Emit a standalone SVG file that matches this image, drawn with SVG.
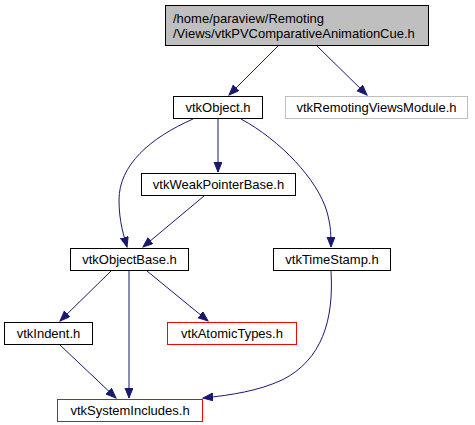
<svg xmlns="http://www.w3.org/2000/svg" width="475" height="425" viewBox="0 0 475 425">
<style>
text{font-family:"Liberation Sans",Arial,sans-serif;font-size:13px;fill:#000}
.c{text-anchor:middle}
.n{fill:#fff;stroke:#000;stroke-width:1}
.r{fill:#fff;stroke:#ff0000;stroke-width:1}
.g{fill:#fff;stroke:#bfbfbf;stroke-width:1}
.e{fill:none;stroke:#191970;stroke-width:1;marker-end:url(#ah)}
</style>
<defs>
<marker id="ah" markerUnits="userSpaceOnUse" markerWidth="12" markerHeight="10" refX="10" refY="4" orient="auto">
<path d="M0,0 L10,4 L0,8 z" fill="#191970" stroke="#191970" stroke-width="1"/>
</marker>
</defs>
<rect width="475" height="425" fill="#fff"/>
<g id="edges">
<path class="e" d="M278,46 L229,95"/>
<path class="e" d="M317,46 L367,95"/>
<path class="e" d="M193,119 C150,138 119,165 119,200 C119,222 124,236 127,247"/>
<path class="e" d="M218,119 L218,172"/>
<path class="e" d="M241,119 C280,140 318,180 327,212 C331,226 331,236 331,247"/>
<path class="e" d="M204,196 L143,247"/>
<path class="e" d="M111,271 L60,321"/>
<path class="e" d="M129,271 L129,398"/>
<path class="e" d="M147,271 L208,321"/>
<path class="e" d="M60,345 L116,398"/>
<path class="e" d="M331,271 C334,320 322,360 282,380 C258,391 232,395 203,398"/>
</g>
<g id="node_main">
<rect x="165.5" y="5.5" width="263" height="40" fill="#bfbfbf" stroke="#000"/>
<text x="173" y="23">/home/paraview/Remoting</text>
<text x="173" y="38">/Views/vtkPVComparativeAnimationCue.h</text>
</g>
<g id="node_vtkObject">
<rect class="n" x="173.5" y="96.5" width="89" height="22"/>
<text class="c" x="218" y="112">vtkObject.h</text>
</g>
<g id="node_vtkRemotingViewsModule">
<rect class="g" x="285.5" y="96.5" width="182" height="22"/>
<text class="c" x="376.5" y="112">vtkRemotingViewsModule.h</text>
</g>
<g id="node_vtkWeakPointerBase">
<rect class="n" x="141.5" y="173.5" width="154" height="22"/>
<text class="c" x="218.5" y="189">vtkWeakPointerBase.h</text>
</g>
<g id="node_vtkObjectBase">
<rect class="n" x="70.5" y="248.5" width="118" height="22"/>
<text class="c" x="129.5" y="264">vtkObjectBase.h</text>
</g>
<g id="node_vtkTimeStamp">
<rect class="n" x="273.5" y="248.5" width="117" height="22"/>
<text class="c" x="332" y="264">vtkTimeStamp.h</text>
</g>
<g id="node_vtkIndent">
<rect class="n" x="4.5" y="322.5" width="88" height="22"/>
<text class="c" x="48.5" y="338">vtkIndent.h</text>
</g>
<g id="node_vtkAtomicTypes">
<rect class="r" x="167.5" y="322.5" width="129" height="22"/>
<text class="c" x="232" y="338">vtkAtomicTypes.h</text>
</g>
<g id="node_vtkSystemIncludes">
<rect class="r" x="57.5" y="399.5" width="145" height="22"/>
<text class="c" x="130" y="415">vtkSystemIncludes.h</text>
</g>
</svg>
